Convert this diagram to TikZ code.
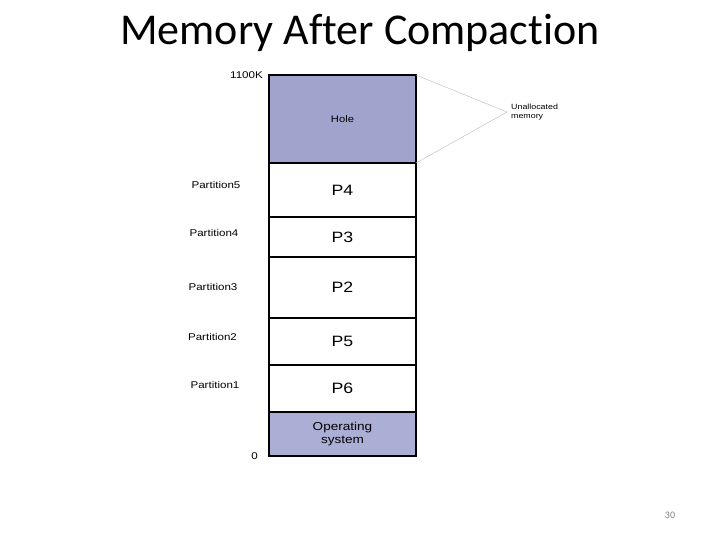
\documentclass[tikz,border=0pt]{standalone}
\usepackage{fontspec}
\setmainfont{Liberation Sans}[FakeStretch=1.18]
\newfontfamily\slidefont{Carlito}[Ligatures=NoCommon]
\usetikzlibrary{positioning}

\definecolor{holeblue}{HTML}{A0A3CC}
\definecolor{osblue}{HTML}{ACAFD5}

\tikzset{
    block/.style={draw, line width=1.2pt, minimum width=147pt, inner sep=0pt, outer sep=0pt, anchor=north},
    proc/.style={block, font=\fontsize{15}{17}\selectfont},
    part/.style={font=\fontsize{9.8}{11}\selectfont, inner sep=0pt},
}

\begin{document}
\begin{tikzpicture}[x=1pt,y=-1pt]
    \def\bx{342.5}
    \def\top{75}

% --------------------
% Frame
% --------------------
\useasboundingbox (0,0) rectangle (720,540);

% --------------------
% Title
% --------------------
\node[font=\slidefont\fontsize{44}{48}\selectfont] (title) at (360,33) {Memory After Compaction};

% --------------------
% Memory blocks (top to bottom)
% --------------------
\node[block, fill=holeblue, minimum height=88pt, font=\fontsize{9.5}{11}\selectfont] (hole) at (\bx,\top) {Hole};
\node[proc, minimum height=54pt] (p4) at (hole.south) {P4};
\node[proc, minimum height=40pt] (p3) at (p4.south) {P3};
\node[proc, minimum height=61pt] (p2) at (p3.south) {P2};
\node[proc, minimum height=47pt] (p5) at (p2.south) {P5};
\node[proc, minimum height=47pt] (p6) at (p5.south) {P6};
\node[block, fill=osblue, minimum height=44pt, align=center, font=\fontsize{11.5}{13}\selectfont] (os) at (p6.south) {Operating\\system};

% --------------------
% Addresses
% --------------------
\node[part, anchor=east] (kmax) at ([xshift=-6pt]hole.north west) {1100K};
\node[part, anchor=east] (kmin) at ([xshift=-11pt]os.south west) {0};

% --------------------
% Partition labels
% --------------------
\node[part] (part5) at (216,185) {Partition5};
\node[part] (part4) at (214,233) {Partition4};
\node[part] (part3) at (213,287) {Partition3};
\node[part] (part2) at (212.5,337) {Partition2};
\node[part] (part1) at (215,385) {Partition1};

% --------------------
% Unallocated memory callout
% --------------------
\coordinate (tip) at (507,112);
\draw[gray!55, line width=0.4pt] (hole.north east) -- (tip) -- (hole.south east);
\node[anchor=west, align=left, inner sep=0pt, font=\fontsize{7.5}{9}\selectfont] (unalloc) at (511,112) {Unallocated\\memory};

% --------------------
% Slide number
% --------------------
\node[font=\slidefont\fontsize{10}{12}\selectfont, text=gray] (num) at (670,515) {30};

\end{tikzpicture}
\end{document}
